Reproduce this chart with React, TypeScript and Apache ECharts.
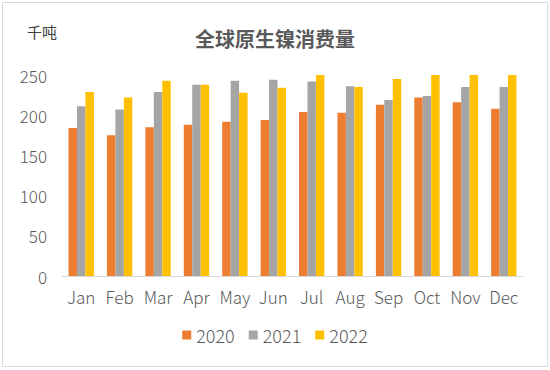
import React, { useEffect, useRef } from "react";
import * as echarts from "echarts";

const months = ["Jan", "Feb", "Mar", "Apr", "May", "Jun", "Jul", "Aug", "Sep", "Oct", "Nov", "Dec"];
const s2020 = [184, 175, 185, 188, 192, 194, 204, 203, 213, 222, 216, 208];
const s2021 = [211, 207, 229, 238, 243, 244, 242, 236, 219, 224, 235, 235];
const s2022 = [229, 222, 243, 238, 228, 234, 250, 235, 245, 250, 250, 250];
const yTicks = [0, 50, 100, 150, 200, 250];

export default function App() {
  const ref = useRef<HTMLDivElement>(null);
  useEffect(() => {
    document.body.style.margin = "0";
    const chart = echarts.init(ref.current!, null, { renderer: "svg" });
    const font = "'Noto Sans CJK SC', 'Noto Sans', sans-serif";
    const mk = (name: string, data: number[], color: string) => ({
      name,
      type: "bar",
      data,
      barGap: "0%",
      barCategoryGap: "34%",
      itemStyle: { color },
    });
    chart.setOption({
      animation: false,
      backgroundColor: "#ffffff",
      textStyle: { fontFamily: font },
      title: {
        text: "全球原生镍消费量",
        left: "center",
        top: 23,
        textStyle: { fontSize: 20, fontWeight: "bold", color: "#595959", fontFamily: font },
      },
      graphic: [
        {
          type: "rect",
          shape: { x: 2.5, y: 2.5, width: 545, height: 364 },
          style: { fill: "none", stroke: "#d9d9d9", lineWidth: 1 },
        },
        {
          type: "text",
          left: 27,
          top: 24,
          style: { text: "千吨", fontSize: 15, fill: "#404040", fontFamily: font },
        },
      ],
      legend: {
        bottom: 21,
        left: "center",
        itemWidth: 9,
        itemHeight: 9,
        itemGap: 14,
        icon: "rect",
        textStyle: { fontSize: 18, fontWeight: 300, color: "#595959", fontFamily: font },
        data: ["2020", "2021", "2022"],
      },
      grid: { left: 62, right: 27, top: 75, bottom: 94, containLabel: false },
      xAxis: {
        type: "category",
        data: months,
        axisLine: { lineStyle: { color: "#d9d9d9" } },
        axisTick: { show: false },
        axisLabel: { interval: 0, fontSize: 17, fontWeight: 300, color: "#595959", margin: 12, fontFamily: font },
      },
      yAxis: {
        type: "value",
        min: yTicks[0],
        max: yTicks[yTicks.length - 1],
        interval: 50,
        splitLine: { show: false },
        axisLine: { show: false },
        axisTick: { show: false },
        axisLabel: { fontSize: 17, fontWeight: 300, color: "#595959", margin: 15, fontFamily: font },
      },
      series: [mk("2020", s2020, "#ED7D31"), mk("2021", s2021, "#A5A5A5"), mk("2022", s2022, "#FFC000")],
    });
    return () => chart.dispose();
  }, []);
  return <div ref={ref} style={{ width: 550, height: 370 }} />;
}
